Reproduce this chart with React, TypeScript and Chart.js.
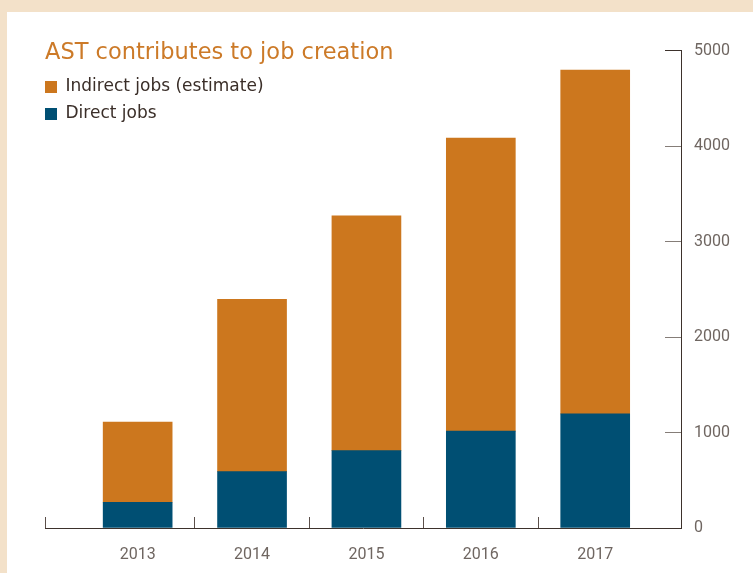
import React, { useEffect, useRef } from 'react';
import { Chart, registerables } from 'chart.js';

Chart.register(...registerables);

// ---- data ----
const years = [2013, 2014, 2015, 2016, 2017];
const directJobs = [270, 590, 810, 1015, 1195];
const indirectJobs = [840, 1805, 2460, 3070, 3600];
const yTicks = [0, 1000, 2000, 3000, 4000, 5000];
const xDividers = [2013.5, 2014.5, 2015.5, 2016.5];
const titleText = 'AST contributes to job creation';
const seriesNames = ['Direct jobs', 'Indirect jobs (estimate)'];

// ---- axis range / styles ----
const X_MIN = 2012.19;
const X_MAX = 2017.75;
const ORANGE = '#cc771e';
const BLUE = '#004f73';
const TITLE_COLOR = '#cc7a28';
const TEXT_DARK = '#3a2e28';
const TICK_TEXT = '#6f6661';
const AXIS_DARK = '#3d322c';
const FONT = 'Roboto, "Noto Sans", sans-serif';
const WIDE_FONT = '"DejaVu Sans", Verdana, sans-serif';

export default function App() {
  const canvasRef = useRef<HTMLCanvasElement | null>(null);

  useEffect(() => {
    const canvas = canvasRef.current;
    if (!canvas) return;
    const chart = new Chart(canvas, {
      type: 'bar',
      data: {
        datasets: [
          {
            label: seriesNames[0],
            data: years.map((y, i) => ({ x: y, y: directJobs[i] })),
            backgroundColor: BLUE,
            borderWidth: 0,
            barThickness: 69,
          },
          {
            label: seriesNames[1],
            data: years.map((y, i) => ({ x: y, y: indirectJobs[i] })),
            backgroundColor: ORANGE,
            borderWidth: 0,
            barThickness: 69,
          },
        ],
      },
      options: {
        responsive: false,
        animation: false,
        layout: { padding: { left: 38, top: 34, right: 0, bottom: 0 } },
        plugins: {
          tooltip: { enabled: false },
          title: { display: false },
          legend: {
            display: true,
            position: 'chartArea',
            align: 'start',
            title: {
              display: true,
              text: titleText,
              color: TITLE_COLOR,
              position: 'start',
              font: { family: WIDE_FONT, size: 22.5, weight: 'normal', lineHeight: 1.2 },
              padding: { top: 30, bottom: 9.5 },
            },
            labels: {
              padding: 0,
              boxWidth: 12,
              boxHeight: 12,
              color: TEXT_DARK,
              font: { family: WIDE_FONT, size: 17, lineHeight: 27 / 17 },
              generateLabels: (ch: any) => {
                const items = Chart.defaults.plugins.legend.labels.generateLabels(ch);
                return items.reverse().map((it: any) => ({ ...it, text: [it.text], lineWidth: 0 }));
              },
            },
          },
        },
        scales: {
          x: {
            type: 'linear',
            position: 'bottom',
            stacked: true,
            offset: false,
            min: X_MIN,
            max: X_MAX,
            afterBuildTicks: (scale: any) => {
              const vals = [X_MIN, ...years, ...xDividers].sort((a, b) => a - b);
              scale.ticks = vals.map((v) => ({ value: v }));
            },
            afterFit: (scale: any) => {
              scale.height = 45;
            },
            ticks: {
              autoSkip: false,
              maxRotation: 0,
              minRotation: 0,
              padding: 28,
              color: TICK_TEXT,
              font: { family: FONT, size: 16 },
              callback: (v: any) => (years.includes(v) ? String(v) : ''),
            },
            grid: {
              display: true,
              offset: false,
              drawOnChartArea: false,
              drawTicks: true,
              tickLength: -11,
              tickWidth: 1,
              tickColor: (ctx: any) =>
                ctx.tick && years.includes(ctx.tick.value) ? 'rgba(0,0,0,0)' : '#5b4f49',
            },
            border: { display: true, color: AXIS_DARK, width: 1 },
          },
          y: {
            type: 'linear',
            position: 'right',
            stacked: true,
            min: 0,
            max: 5000,
            afterBuildTicks: (scale: any) => {
              scale.ticks = yTicks.map((v) => ({ value: v }));
            },
            afterFit: (scale: any) => {
              scale.width = 72;
            },
            ticks: {
              padding: 29,
              color: TICK_TEXT,
              font: { family: FONT, size: 16 },
              callback: (v: any) => String(v),
            },
            grid: {
              display: true,
              drawOnChartArea: false,
              drawTicks: true,
              tickLength: -16,
              tickWidth: 1,
              tickColor: (ctx: any) => {
                const v = ctx.tick ? ctx.tick.value : 0;
                if (v === 0) return 'rgba(0,0,0,0)';
                if (v === 5000) return AXIS_DARK;
                return '#857d78';
              },
            },
            border: { display: true, color: AXIS_DARK, width: 1 },
          },
        },
      },
    } as any);
    return () => chart.destroy();
  }, []);

  return (
    <div
      style={{
        position: 'absolute',
        left: 0,
        top: 0,
        width: 753,
        height: 573,
        background: '#f3e1c9',
        overflow: 'hidden',
      }}
    >
      <div
        style={{
          position: 'absolute',
          left: 7,
          top: 12,
          width: 746,
          height: 561,
          background: '#ffffff',
        }}
      >
        <canvas ref={canvasRef} width={746} height={561} style={{ display: 'block' }} />
      </div>
    </div>
  );
}
